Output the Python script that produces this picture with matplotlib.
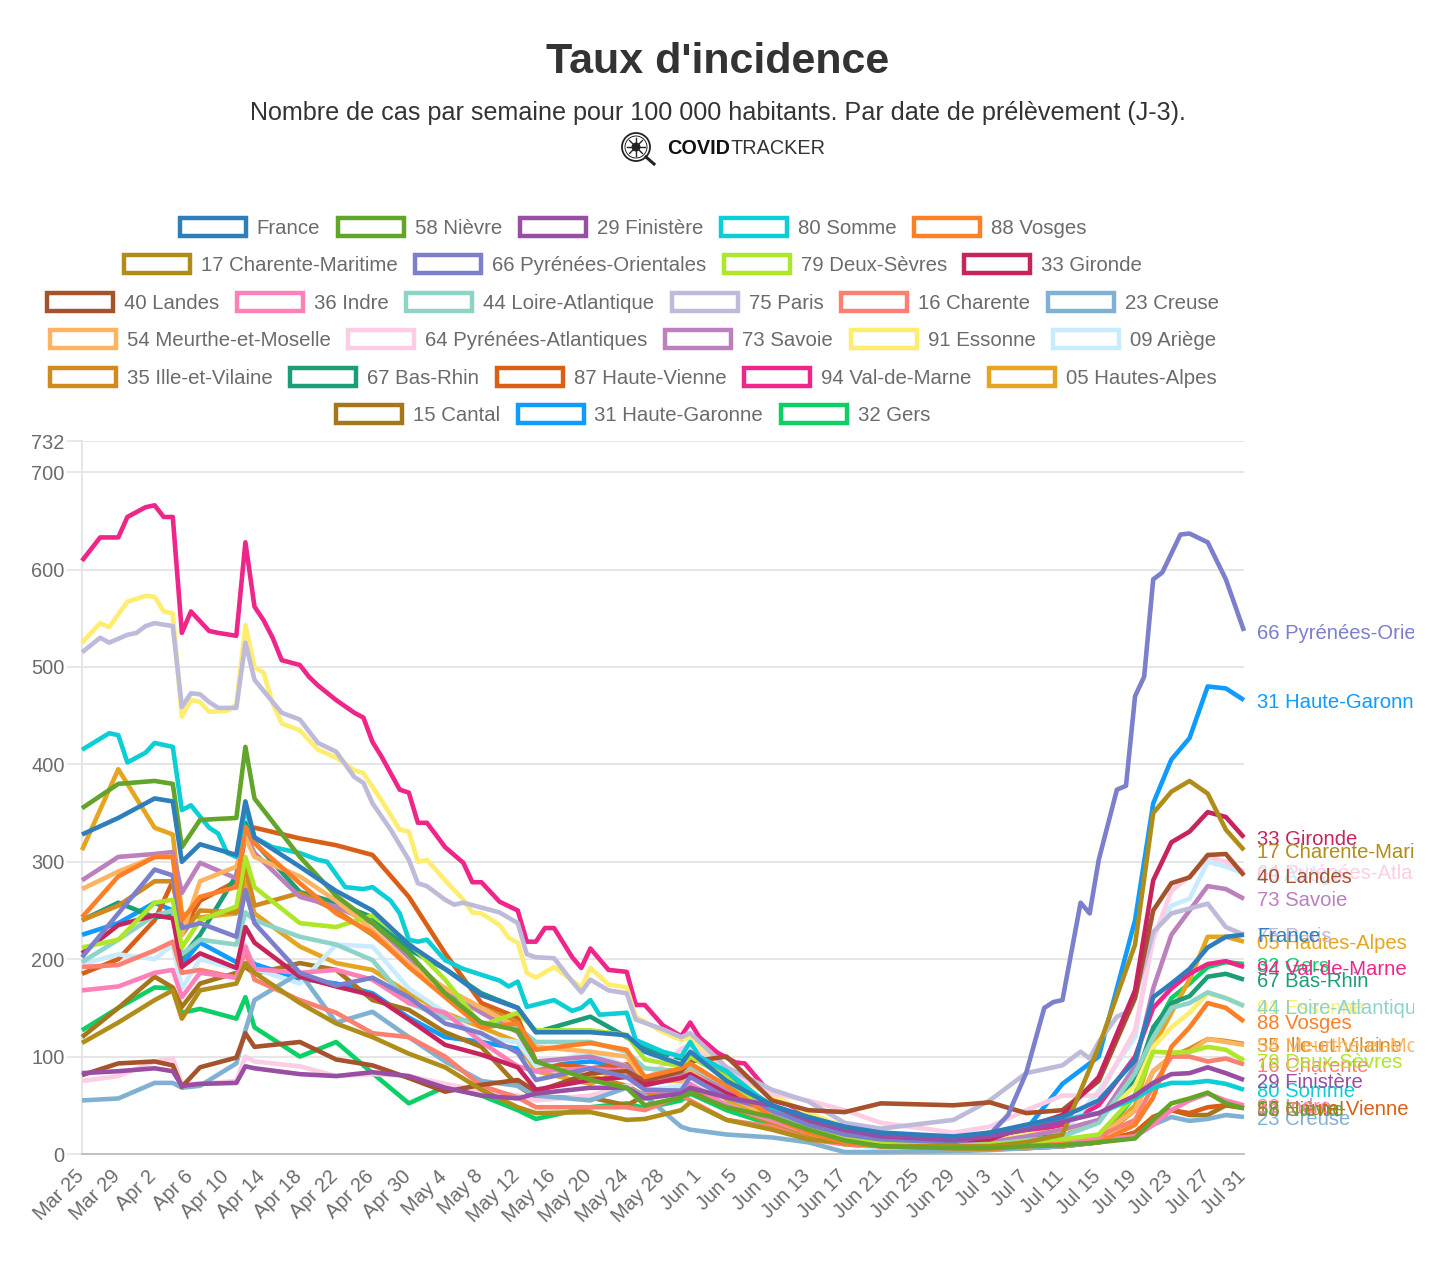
import math
import pandas as pd
import matplotlib
matplotlib.use("Agg")
import matplotlib.pyplot as plt
from matplotlib.patches import Circle, Rectangle
from matplotlib.lines import Line2D
from matplotlib.transforms import ScaledTranslation

plt.rcParams["font.family"] = ["Liberation Sans", "DejaVu Sans"]

W, H = 1438, 1270
GRAY = "#6b6b6b"
GRID = "#e4e4e4"

# days the values were read at
days = ["03-25", "03-29", "04-02", "04-04", "04-05", "04-07", "04-11", "04-12", "04-13", "04-18",
        "04-22", "04-26", "04-30", "05-04", "05-08", "05-12", "05-14", "05-20", "05-24", "05-26",
        "05-30", "05-31", "06-04", "06-09", "06-13", "06-17", "06-21", "06-29", "07-03", "07-07",
        "07-11", "07-15", "07-19", "07-21", "07-23", "07-25", "07-27", "07-29", "07-31"]

france = [328, 345, 365, 362, 300, 318, 307, 362, 325, 295,
          270, 250, 215, 190, 163, 150, 125, 125, 122, 105,
          92, 105, 75, 50, 38, 28, 22, 18, 22, 30,
          38, 55, 96, 161, 175, 190, 212, 223, 225]
nievre = [355, 380, 383, 380, 315, 343, 345, 418, 365, 305,
          265, 237, 206, 165, 135, 127, 95, 76, 68, 50,
          58, 63, 48, 38, 25, 14, 8, 6, 6, 8,
          9, 12, 16, 35, 52, 57, 63, 52, 47]
finistere = [83, 85, 88, 85, 70, 72, 73, 90, 88, 82,
             80, 84, 80, 68, 60, 57, 62, 68, 68, 57,
             62, 68, 58, 50, 35, 25, 18, 14, 18, 25,
             33, 42, 60, 73, 82, 83, 89, 83, 76]
vosges = [243, 285, 305, 305, 240, 264, 274, 336, 319, 278,
          247, 227, 192, 161, 130, 134, 107, 114, 107, 79,
          88, 93, 70, 38, 22, 12, 8, 6, 5, 8,
          10, 12, 30, 58, 110, 130, 155, 150, 136]
charente_maritime = [114, 135, 158, 168, 139, 168, 175, 196, 186, 155,
                     134, 120, 103, 89, 66, 48, 42, 43, 35, 36,
                     45, 53, 35, 25, 15, 12, 8, 8, 8, 12,
                     20, 110, 215, 350, 372, 383, 370, 333, 312]
deux_sevres = [212, 220, 258, 261, 212, 240, 254, 305, 274, 237,
               233, 245, 217, 179, 132, 145, 127, 127, 122, 97,
               90, 100, 79, 38, 25, 18, 12, 8, 10, 12,
               15, 20, 60, 105, 104, 105, 110, 107, 96]
gironde = [206, 235, 245, 242, 192, 206, 191, 233, 217, 182,
           172, 163, 138, 112, 102, 89, 66, 76, 79, 71,
           78, 82, 62, 45, 32, 22, 15, 14, 15, 28,
           40, 79, 168, 281, 320, 331, 351, 346, 325]
landes = [81, 93, 95, 91, 69, 89, 99, 124, 110, 115,
          97, 91, 78, 64, 71, 76, 64, 83, 85, 75,
          85, 95, 100, 55, 45, 43, 52, 50, 53, 42,
          45, 75, 160, 250, 278, 284, 307, 308, 286]
indre = [168, 172, 186, 189, 161, 186, 181, 213, 190, 186,
         189, 179, 155, 145, 115, 90, 85, 88, 85, 65,
         65, 72, 50, 35, 22, 14, 9, 7, 7, 8,
         10, 15, 18, 30, 45, 55, 62, 55, 50]
loire_atlantique = [197, 220, 245, 250, 205, 220, 215, 248, 240, 223,
                    215, 199, 155, 140, 135, 130, 115, 115, 105, 88,
                    85, 90, 70, 45, 28, 18, 11, 8, 10, 14,
                    18, 32, 83, 120, 150, 155, 166, 160, 152]
charente = [192, 194, 209, 218, 186, 189, 181, 209, 179, 158,
            145, 124, 120, 100, 70, 58, 48, 48, 48, 45,
            60, 55, 35, 28, 15, 10, 8, 6, 6, 8,
            12, 18, 35, 70, 100, 100, 95, 98, 92]
creuse = [55, 57, 73, 73, 68, 70, 93, 127, 158, 186,
          135, 146, 120, 95, 75, 70, 60, 55, 68, 60,
          28, 25, 20, 17, 12, 2, 2, 3, 4, 6,
          8, 12, 18, 30, 38, 34, 36, 40, 38]
meurthe = [272, 290, 305, 305, 225, 280, 295, 325, 305, 285,
           260, 230, 195, 170, 150, 130, 110, 105, 100, 75,
           75, 85, 60, 38, 22, 12, 8, 6, 6, 8,
           10, 18, 45, 85, 100, 105, 118, 115, 112]
pyrenees_atlantiques = [75, 80, 95, 98, 72, 72, 75, 100, 95, 90,
                        80, 82, 80, 72, 65, 60, 55, 60, 70, 75,
                        108, 112, 85, 62, 55, 45, 32, 22, 28, 45,
                        60, 60, 127, 220, 270, 285, 305, 300, 290]
savoie = [281, 305, 308, 310, 268, 299, 283, 329, 309, 264,
          254, 237, 202, 168, 145, 125, 95, 100, 90, 70,
          80, 88, 65, 42, 28, 18, 12, 9, 12, 18,
          25, 35, 90, 170, 225, 250, 275, 272, 262]
ariege = [195, 205, 200, 215, 170, 200, 190, 215, 190, 175,
          215, 213, 170, 145, 120, 115, 90, 105, 90, 65,
          70, 80, 50, 35, 22, 12, 5, 3, 5, 10,
          20, 65, 120, 225, 255, 262, 300, 295, 288]
ille_et_vilaine = [240, 255, 280, 280, 225, 250, 248, 295, 255, 268,
                   250, 225, 195, 170, 150, 135, 90, 80, 70, 60,
                   62, 70, 50, 32, 20, 12, 8, 6, 6, 8,
                   10, 15, 45, 85, 100, 108, 118, 116, 113]
bas_rhin = [240, 258, 243, 245, 202, 225, 286, 340, 320, 269,
            258, 243, 210, 190, 165, 150, 125, 141, 120, 108,
            98, 100, 80, 50, 32, 20, 14, 10, 12, 15,
            20, 35, 75, 130, 155, 162, 182, 185, 179]
haute_vienne = [185, 200, 240, 280, 230, 260, 280, 325, 335, 324,
                317, 307, 264, 206, 155, 140, 95, 88, 92, 78,
                85, 90, 62, 42, 30, 16, 9, 6, 5, 6,
                8, 12, 22, 38, 45, 42, 48, 50, 48]
hautes_alpes = [312, 395, 335, 328, 247, 243, 247, 280, 247, 213,
                196, 189, 165, 145, 130, 115, 85, 72, 88, 75,
                85, 88, 55, 35, 20, 12, 8, 6, 6, 8,
                10, 15, 50, 110, 145, 179, 223, 223, 218]
cantal = [120, 150, 182, 171, 151, 175, 186, 192, 185, 196,
          189, 158, 148, 125, 110, 70, 58, 58, 50, 60,
          62, 65, 52, 35, 20, 12, 8, 5, 5, 6,
          8, 12, 22, 38, 45, 40, 40, 50, 47]
haute_garonne = [225, 237, 258, 250, 195, 217, 197, 205, 195, 180,
                 175, 165, 140, 120, 115, 108, 90, 95, 90, 78,
                 80, 88, 60, 38, 25, 15, 10, 8, 14, 25,
                 72, 100, 240, 360, 405, 427, 480, 478, 466]
gers = [127, 150, 171, 170, 145, 149, 139, 161, 130, 100,
        115, 83, 52, 69, 60, 45, 36, 48, 52, 47,
        55, 62, 45, 30, 18, 10, 7, 5, 6, 7,
        9, 14, 60, 125, 160, 175, 192, 197, 195]

# the lines standing clear of the bundle were read at more days
val_de_marne_days = ["03-25", "03-27", "03-29", "03-30", "04-01", "04-02", "04-03", "04-04", "04-05", "04-06",
                     "04-08", "04-09", "04-11", "04-12", "04-13", "04-14", "04-15", "04-16", "04-18", "04-19",
                     "04-20", "04-22", "04-24", "04-25", "04-26", "04-27", "04-29", "04-30", "05-01", "05-02",
                     "05-04", "05-06", "05-07", "05-08", "05-10", "05-12", "05-13", "05-14", "05-15", "05-16",
                     "05-18", "05-19", "05-20", "05-22", "05-24", "05-25", "05-26", "05-28", "05-30", "05-31",
                     "06-01", "06-03", "06-05", "06-06", "06-09", "06-13", "06-17", "06-21", "06-29", "07-03",
                     "07-07", "07-11", "07-15", "07-19", "07-21", "07-23", "07-25", "07-27", "07-29", "07-31"]
val_de_marne = [609, 633, 633, 654, 664, 666, 654, 654, 535, 557,
                537, 535, 532, 628, 562, 548, 530, 507, 502, 490,
                481, 466, 453, 448, 423, 408, 374, 371, 340, 340,
                315, 299, 279, 279, 259, 250, 218, 218, 232, 232,
                202, 191, 211, 189, 187, 153, 153, 132, 121, 135,
                120, 104, 94, 93, 60, 40, 25, 18, 14, 18,
                22, 30, 50, 100, 150, 170, 185, 195, 198, 192]
paris_days = ["03-25", "03-27", "03-28", "03-30", "03-31", "04-01", "04-02", "04-04", "04-05", "04-06",
              "04-07", "04-08", "04-09", "04-11", "04-12", "04-13", "04-15", "04-16", "04-18", "04-20",
              "04-22", "04-24", "04-25", "04-26", "04-28", "04-30", "05-01", "05-02", "05-04", "05-05",
              "05-06", "05-08", "05-10", "05-12", "05-13", "05-14", "05-16", "05-18", "05-19", "05-20",
              "05-22", "05-24", "05-25", "05-28", "05-30", "05-31", "06-04", "06-09", "06-13", "06-17",
              "06-21", "06-29", "07-03", "07-07", "07-11", "07-13", "07-14", "07-15", "07-17", "07-18",
              "07-19", "07-21", "07-23", "07-25", "07-27", "07-29", "07-31"]
paris = [515, 530, 525, 533, 535, 542, 545, 542, 459, 473,
         472, 464, 458, 458, 525, 487, 464, 453, 446, 422,
         413, 387, 381, 360, 333, 302, 278, 275, 261, 256,
         258, 253, 248, 237, 205, 202, 201, 177, 166, 179,
         168, 165, 138, 128, 120, 124, 89, 66, 54, 32,
         26, 35, 55, 83, 91, 105, 98, 115, 141, 145,
         161, 228, 247, 252, 257, 233, 225]
essonne_days = ["03-25", "03-27", "03-28", "03-30", "04-01", "04-02", "04-03", "04-04", "04-05", "04-06",
                "04-07", "04-08", "04-10", "04-11", "04-12", "04-13", "04-14", "04-15", "04-16", "04-18",
                "04-20", "04-22", "04-24", "04-25", "04-27", "04-28", "04-29", "04-30", "05-01", "05-02",
                "05-04", "05-06", "05-07", "05-08", "05-10", "05-11", "05-12", "05-13", "05-14", "05-16",
                "05-18", "05-19", "05-20", "05-22", "05-24", "05-25", "05-28", "05-30", "05-31", "06-04",
                "06-09", "06-13", "06-17", "06-21", "06-29", "07-03", "07-07", "07-11", "07-15", "07-19",
                "07-21", "07-23", "07-25", "07-27", "07-29", "07-31"]
essonne = [525, 545, 541, 567, 573, 572, 557, 555, 449, 466,
           464, 454, 455, 461, 543, 500, 494, 463, 442, 435,
           415, 407, 394, 391, 363, 348, 333, 331, 300, 302,
           281, 261, 248, 247, 235, 222, 217, 186, 181, 192,
           178, 171, 191, 174, 171, 141, 125, 117, 120, 85,
           60, 42, 28, 20, 14, 14, 20, 24, 35, 70,
           110, 130, 145, 165, 160, 152]
somme_days = ["03-25", "03-28", "03-29", "03-30", "04-01", "04-02", "04-04", "04-05", "04-06", "04-08",
              "04-09", "04-10", "04-11", "04-12", "04-13", "04-15", "04-18", "04-20", "04-21", "04-23",
              "04-25", "04-26", "04-28", "04-29", "04-30", "05-01", "05-02", "05-04", "05-06", "05-08",
              "05-10", "05-11", "05-12", "05-13", "05-16", "05-18", "05-19", "05-20", "05-21", "05-24",
              "05-25", "05-28", "05-30", "05-31", "06-01", "06-04", "06-09", "06-13", "06-17", "06-21",
              "06-29", "07-03", "07-07", "07-11", "07-15", "07-19", "07-21", "07-23", "07-25", "07-27",
              "07-29", "07-31"]
somme = [415, 432, 430, 402, 412, 422, 418, 353, 358, 335,
         329, 309, 305, 355, 325, 315, 309, 302, 300, 274,
         272, 274, 260, 247, 220, 218, 220, 199, 190, 184,
         178, 172, 177, 151, 158, 147, 150, 158, 143, 145,
         117, 105, 100, 115, 100, 85, 48, 38, 28, 18,
         14, 22, 28, 35, 42, 57, 68, 73, 73, 75,
         72, 66]
pyrenees_orientales_days = ["03-25", "03-29", "04-02", "04-04", "04-05", "04-07", "04-11", "04-12", "04-13", "04-18",
                            "04-22", "04-26", "04-30", "05-04", "05-08", "05-12", "05-14", "05-20", "05-24", "05-26",
                            "05-30", "05-31", "06-04", "06-09", "06-13", "06-17", "06-21", "06-29", "07-03", "07-05",
                            "07-07", "07-09", "07-10", "07-11", "07-13", "07-14", "07-15", "07-17", "07-18", "07-19",
                            "07-20", "07-21", "07-22", "07-24", "07-25", "07-27", "07-29", "07-31"]
pyrenees_orientales = [202, 247, 292, 286, 232, 237, 223, 271, 237, 186,
                       173, 181, 161, 134, 124, 104, 76, 88, 79, 66,
                       65, 79, 58, 45, 30, 20, 15, 12, 20, 40,
                       83, 150, 156, 158, 258, 247, 302, 374, 378, 470,
                       490, 590, 597, 636, 637, 628, 590, 537]

series = [
    ("France", days, france, "#2f7ebc"),
    ("58 Nièvre", days, nievre, "#62a52a"),
    ("29 Finistère", days, finistere, "#984ea3"),
    ("80 Somme", somme_days, somme, "#0ccfd5"),
    ("88 Vosges", days, vosges, "#ff7f27"),
    ("17 Charente-Maritime", days, charente_maritime, "#b08d18"),
    ("66 Pyrénées-Orientales", pyrenees_orientales_days, pyrenees_orientales, "#7b7fcc"),
    ("79 Deux-Sèvres", days, deux_sevres, "#aee62a"),
    ("33 Gironde", days, gironde, "#c7245e"),
    ("40 Landes", days, landes, "#a6522d"),
    ("36 Indre", days, indre, "#ff7fb8"),
    ("44 Loire-Atlantique", days, loire_atlantique, "#8dd3c7"),
    ("75 Paris", paris_days, paris, "#bebada"),
    ("16 Charente", days, charente, "#fb8072"),
    ("23 Creuse", days, creuse, "#80b1d3"),
    ("54 Meurthe-et-Moselle", days, meurthe, "#fdb462"),
    ("64 Pyrénées-Atlantiques", days, pyrenees_atlantiques, "#fccde5"),
    ("73 Savoie", days, savoie, "#bc80bd"),
    ("91 Essonne", essonne_days, essonne, "#ffed6f"),
    ("09 Ariège", days, ariege, "#c8ebff"),
    ("35 Ille-et-Vilaine", days, ille_et_vilaine, "#d18a1f"),
    ("67 Bas-Rhin", days, bas_rhin, "#1b9e77"),
    ("87 Haute-Vienne", days, haute_vienne, "#d95f16"),
    ("94 Val-de-Marne", val_de_marne_days, val_de_marne, "#f0258a"),
    ("05 Hautes-Alpes", days, hautes_alpes, "#e6a520"),
    ("15 Cantal", days, cantal, "#a6761d"),
    ("31 Haute-Garonne", days, haute_garonne, "#0f9bff"),
    ("32 Gers", days, gers, "#0ccf66"),
]
legend_rows = [5, 4, 6, 5, 5, 3]


def fx(px):
    return px / W


def fy(py):
    return 1 - py / H


def to_dates(strings):
    return pd.to_datetime(["2021-" + d for d in strings])


fig = plt.figure(figsize=(W / 100, H / 100), dpi=100)
ax = fig.add_axes([fx(82), fy(1154), (1244 - 82) / W, (1154 - 441) / H])

# first dataset is drawn on top, like the original
for i, (name, when, values, color) in enumerate(series):
    z = 100 - i
    dates = to_dates(when)
    ax.plot(dates, values, color=color, lw=3.3, zorder=z, solid_joinstyle="round",
            solid_capstyle="butt", clip_on=False)
    t = ax.annotate(name, (dates[-1], values[-1]), xytext=(9.4, -1.5), textcoords="offset points",
                    color=color, fontsize=14.6, va="center", ha="left", zorder=z,
                    annotation_clip=False)
    t.set_clip_path(Rectangle((0, 0), 1414, H, transform=None))
    t.set_clip_on(True)

first, last = to_dates(days)[0], to_dates(days)[-1]
ax.set_xlim(first, last)
ax.set_ylim(0, 732)
ax.set_yticks([0, 100, 200, 300, 400, 500, 600, 700, 732])
ax.set_yticklabels(["0", "100", "200", "300", "400", "500", "600", "700", "732"])
tick_days = pd.date_range(first, last, freq="4D")
ax.set_xticks(tick_days)
ax.set_xticklabels([d.strftime("%b ") + str(d.day) for d in tick_days], rotation=45,
                   ha="right", rotation_mode="anchor")
ax.tick_params(axis="y", length=11, width=1.2, color=GRID, labelcolor=GRAY, labelsize=14.4, pad=1.5)
ax.tick_params(axis="x", length=0, labelcolor=GRAY, labelsize=14.4, pad=9)
shift = ScaledTranslation(-0.08, 0, fig.dpi_scale_trans)
for lab in ax.get_xticklabels():
    lab.set_transform(lab.get_transform() + shift)
ax.grid(True, axis="y", color=GRID, lw=1.3)
ax.set_axisbelow(True)
for s in ["top", "right"]:
    ax.spines[s].set_visible(False)
ax.spines["left"].set_color(GRID)
ax.spines["left"].set_linewidth(1.3)
ax.spines["bottom"].set_color("#bdbdbd")
ax.spines["bottom"].set_linewidth(1.3)

# title block
fig.text(fx(718), fy(62), "Taux d'incidence", ha="center", va="center", fontsize=31,
         fontweight="bold", color="#333333")
fig.text(fx(718), fy(113), "Nombre de cas par semaine pour 100 000 habitants. Par date de prélèvement (J-3).",
         ha="center", va="center", fontsize=18.1, color="#333333")

# logo
cx, cy = 636, 147
fig.add_artist(Circle((cx, H - cy), 14, transform=None, fill=False, ec="#222222", lw=1.3))
fig.add_artist(Circle((cx, H - cy), 11, transform=None, fill=False, ec="#222222", lw=0.7))
fig.add_artist(Circle((cx, H - cy), 4.5, transform=None, fc="#222222", ec="none"))
for a in range(8):
    ang = a * math.pi / 4
    fig.add_artist(Line2D([cx, cx + 9 * math.cos(ang)], [H - cy, H - cy + 9 * math.sin(ang)],
                          transform=None, color="#222222", lw=1.0))
fig.add_artist(Line2D([cx + 10, cx + 18], [H - cy - 10, H - cy - 17], transform=None,
                      color="#222222", lw=2.2))
logo_a = fig.text(fx(667), fy(148.5), "COVID", ha="left", va="center", fontsize=14.3,
                  fontweight="bold", color="#111111")
fig.canvas.draw()
renderer = fig.canvas.get_renderer()
logo_end = logo_a.get_window_extent(renderer).x1
fig.text(fx(logo_end + 0.5), fy(148.5), "TRACKER", ha="left", va="center", fontsize=14.3, color="#333333")

# legend, centred rows of box + name
legend_y = [227, 264, 302, 339, 377, 414]
box_w, box_h = 66, 18
gap = 15.5
k = 0
for row_n, y in zip(legend_rows, legend_y):
    items = series[k:k + row_n]
    k += row_n
    labels = [fig.text(0, fy(y + 1.5), item[0], ha="left", va="center", fontsize=14.7, color=GRAY)
              for item in items]
    widths = [t.get_window_extent(renderer).width for t in labels]
    total = sum(widths) + len(items) * (box_w + 4 + 9) + (len(items) - 1) * gap
    x = 632 - total / 2
    for t, w, item in zip(labels, widths, items):
        fig.add_artist(Rectangle((x + 2, H - y - box_h / 2), box_w, box_h, transform=None,
                                 fc="white", ec=item[3], lw=3.2))
        t.set_x(fx(x + box_w + 4 + 9))
        x += box_w + 4 + 9 + w + gap

fig.savefig("out.png", dpi=100)
